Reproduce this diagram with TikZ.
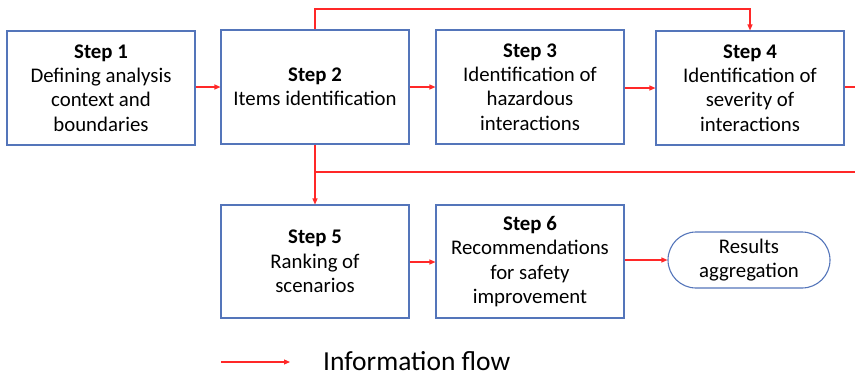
\documentclass[tikz,border=0pt]{standalone}
\usepackage{fontspec}
\setmainfont{Carlito}
\usetikzlibrary{arrows.meta,positioning}
\definecolor{boxblue}{RGB}{84,117,186}
\definecolor{flowred}{RGB}{255,40,40}
\tikzset{
  stepbox/.style={draw=boxblue, line width=1.1pt, fill=white, align=center, inner sep=0pt,
    minimum width=188pt, minimum height=114pt,
    font=\fontsize{20.8}{24.4}\selectfont},
  flow/.style={draw=flowred, line width=1.1pt, -{Triangle[length=6pt,width=5pt]}},
  flowline/.style={draw=flowred, line width=1.1pt},
  endbox/.style={draw=boxblue, line width=1.1pt, rounded corners=28pt, align=center, inner sep=0pt,
    font=\fontsize{20.8}{24.4}\selectfont}
}
\begin{document}
\begin{tikzpicture}[x=1pt,y=-1pt]
\useasboundingbox (0,0) rectangle (855,376);
\node[stepbox] (s1) at (101,88) {\textbf{Step 1}\\Defining analysis\\context and\\boundaries};
\node[stepbox] (s2) at (315,87) {\textbf{Step 2}\\Items identification};
\node[stepbox] (s3) at (530,87) {\textbf{Step 3}\\Identification of\\hazardous\\interactions};
\node[stepbox] (s4) at (750,88) {\textbf{Step 4}\\Identification of\\severity of\\interactions};
\node[stepbox, minimum height=113pt] (s5) at (315,261.5) {\textbf{Step 5}\\Ranking of\\scenarios};
\node[stepbox, minimum height=113pt] (s6) at (530,261.5) {\textbf{Step 6}\\Recommendations\\for safety\\improvement};
\node[endbox, minimum width=162pt, minimum height=56pt] (res) at (749,260) {Results\\aggregation};

\coordinate (top2) at (315,9);
\coordinate (top4) at (750,9);
\coordinate (branch) at (315,172);
\coordinate (rightlow) at (855,172);
\coordinate (right4) at (855,87);

\draw[flow] (s1.east |- 0,87) -- (s2.west |- 0,87);
\draw[flow] (s2.east |- 0,87) -- (s3.west |- 0,87);
\draw[flow] (s3.east |- 0,88) -- (s4.west |- 0,88);
\draw[flowline] (s4.east |- 0,87) -- (right4);
\draw[flow] (s2.north) -- (top2) -- (top4) -- (s4.north);
\draw[flow] (s2.south) -- (s5.north);
\draw[flowline] (branch) -- (rightlow);
\draw[flow] (s5.east |- 0,262) -- (s6.west |- 0,262);
\draw[flow] (s6.east |- 0,260) -- (res.west);

\coordinate (la) at (221,362);
\coordinate (lb) at (290,362);
\draw[flow] (la) -- (lb);
\node[anchor=west, inner sep=0pt, font=\fontsize{27.5}{30}\selectfont] (leg) at (323,361) {Information flow};
\end{tikzpicture}
\end{document}
